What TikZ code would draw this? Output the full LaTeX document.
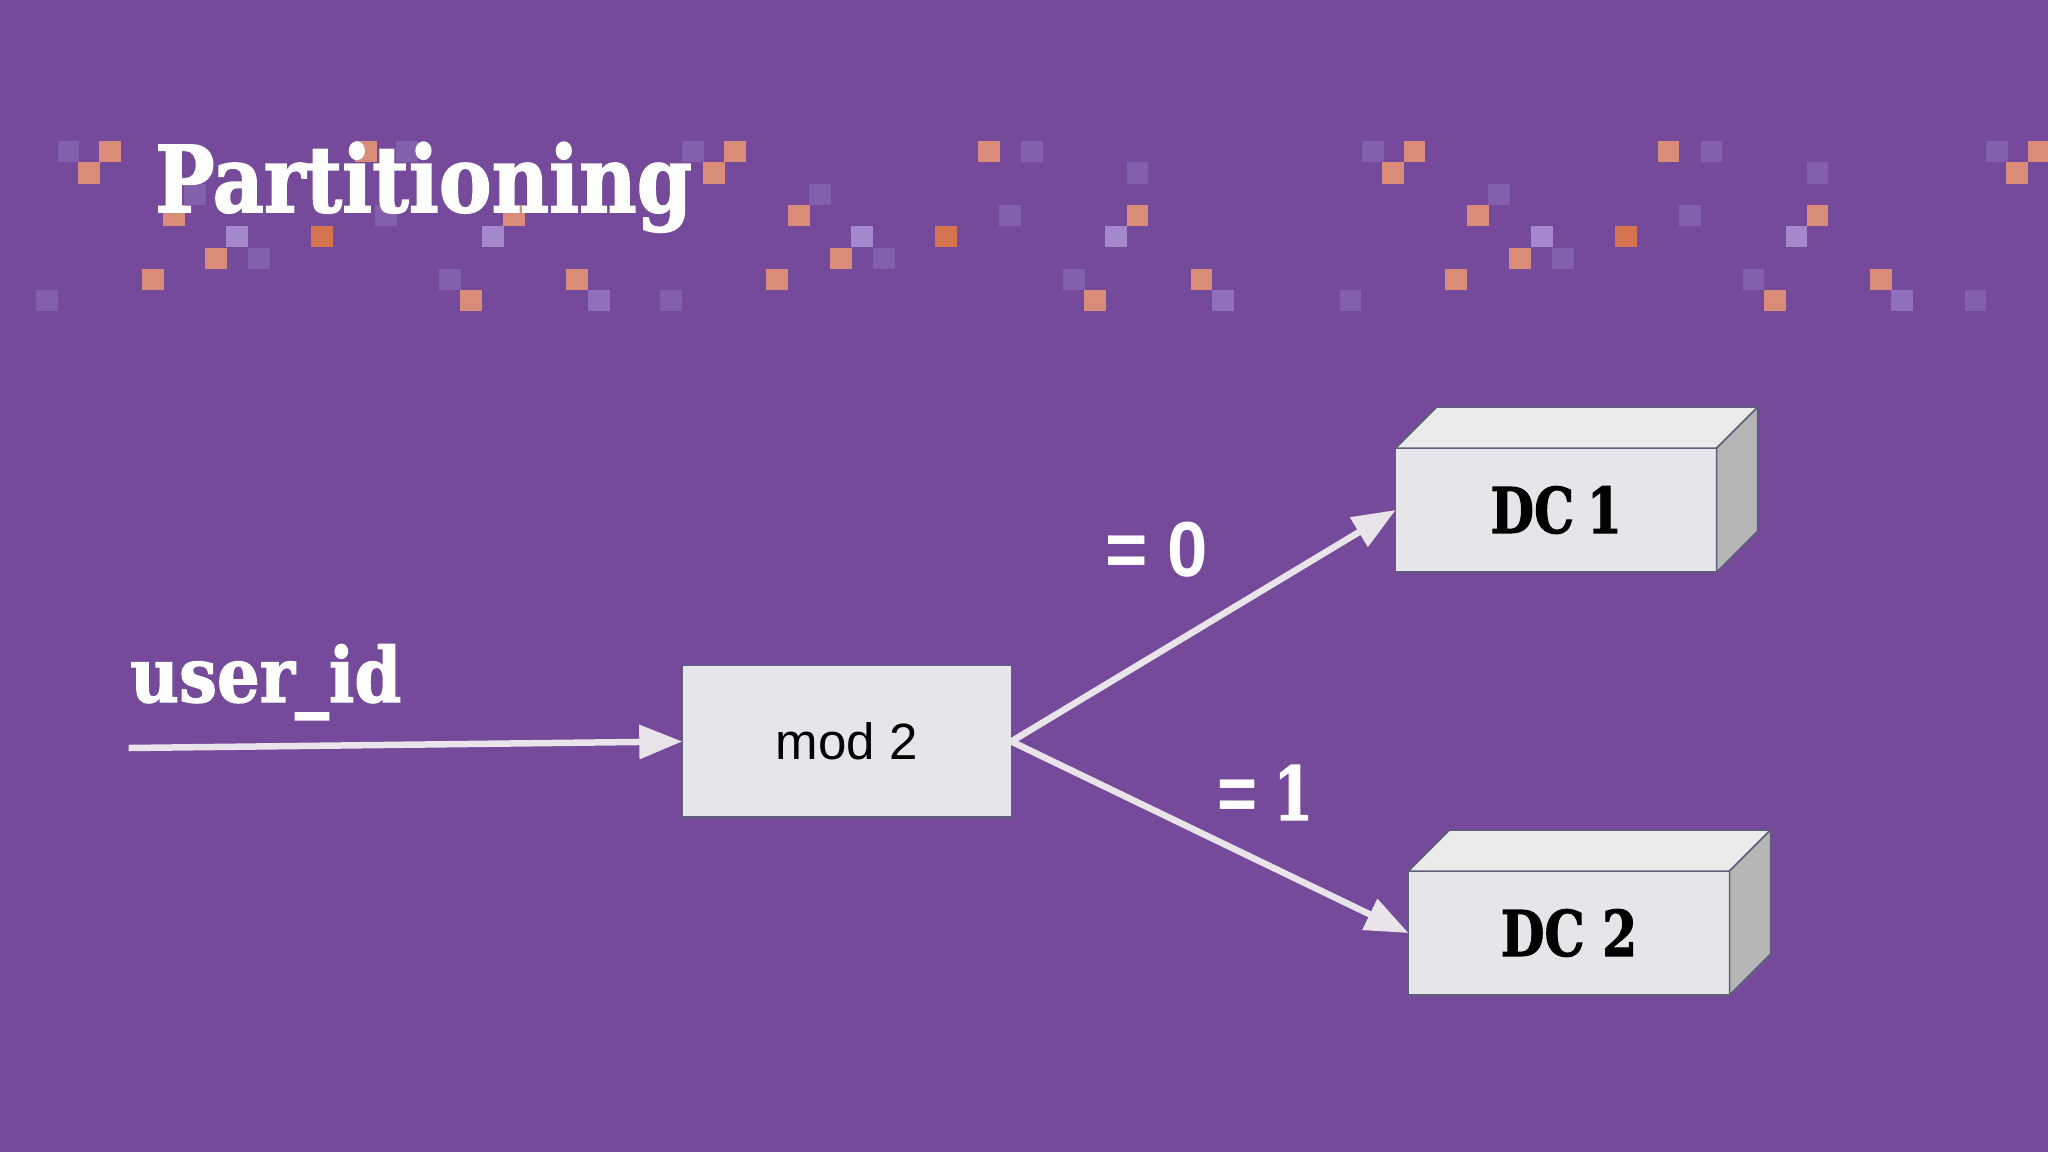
\documentclass[tikz,border=0pt]{standalone}
\usepackage{fontspec}
\usetikzlibrary{arrows.meta}
\setmainfont{DejaVu Serif}[BoldFeatures={FakeBold=1.8}]
\newfontfamily\armo{Liberation Sans}
\definecolor{bgp}{HTML}{754A9B}
\definecolor{sqo}{HTML}{D98D78}
\definecolor{sqs}{HTML}{D6744F}
\definecolor{sql}{HTML}{A388CC}
\definecolor{sqm}{HTML}{9070BA}
\definecolor{sqf}{HTML}{8360AC}
\definecolor{boxf}{HTML}{E6E6EA}
\definecolor{boxl}{HTML}{5D5F7A}
\definecolor{topf}{HTML}{EBEBEC}
\definecolor{sidef}{HTML}{B6B6B6}
\definecolor{arr}{HTML}{E9E4EA}
\tikzset{
  boxnode/.style={draw=boxl,line width=1.5pt,fill=boxf,inner sep=0pt,outer sep=0pt,text=black,anchor=north west},
  face/.style={draw=boxl,line width=1.5pt,line join=round},
  link/.style={draw=arr,line width=6.5pt,-{Triangle[length=43pt,width=33pt,fill=arr]}},
  titletext/.style={text=white,inner sep=0pt,anchor=base west,font=\bfseries},
}
\newcommand{\rowy}[1]{\ifcase#1 141\or 162.3\or 183.6\or 205\or 226\or 247.5\or 269\or 290\fi}
\newcommand{\sqr}[3]{\fill[#1] (#2,\rowy{#3}) rectangle ++(21.5,21.4);}
\newcommand{\cube}[1]{%
  \draw[face,fill=topf] (#1.north west) -- ++(41,-41) -- ++(321,0) -- (#1.north east) -- cycle;
  \draw[face,fill=sidef] (#1.north east) -- ++(41,-41) -- ++(0,124) -- (#1.south east) -- cycle;
}
\begin{document}
\begin{tikzpicture}[x=1pt,y=-1pt]
\useasboundingbox (0,0) rectangle (2048,1152);
\fill[bgp] (0,0) rectangle (2048,1152);
% pixel pattern
\foreach \x/\r in {57.5/0,396/0,682/0,1021/0,1362/0,1700.7/0,1986/0,1126.5/1,1806.5/1,809/2,184/2,1488/2,999/3,375/3,1679/3,248/5,873/5,1552/5,439/6,1063/6,1742.5/6,36/7,660/7,1339.5/7,1964.5/7}{\sqr{sqf}{\x}{\r}}
\foreach \x/\r in {588/7,1212/7,1891/7}{\sqr{sqm}{\x}{\r}}
\foreach \x/\r in {226/4,482/4,851/4,1105/4,1531/4,1785.6/4}{\sqr{sql}{\x}{\r}}
\foreach \x/\r in {311/4,935/4,1615/4}{\sqr{sqs}{\x}{\r}}
\foreach \x/\r in {99/0,355/0,724/0,978/0,1403.5/0,1657.5/0,2028/0,78/1,703/1,1382/1,2006/1,788/3,163/3,503/3,1126.5/3,1467/3,1806.5/3,205/5,830/5,1509/5,142/6,566/6,766/6,1190.5/6,1445/6,1870/6,460/7,1084/7,1764/7}{\sqr{sqo}{\x}{\r}}
% texts
\node[titletext,font=\bfseries\fontsize{92}{92}\selectfont] (title) at (155,212) {\scalebox{0.86}[1]{Partitioning}};
\node[titletext,font=\bfseries\fontsize{76}{76}\selectfont] (uid) at (130,702) {\scalebox{0.885}[1]{user\_id}};
\node[titletext,font=\armo\bfseries\fontsize{78}{78}\selectfont] (eq0) at (1105,576) {\scalebox{0.93}[1]{= 0}};
\node[titletext,font=\armo\bfseries\fontsize{78}{78}\selectfont] (eq1) at (1217,820) {\scalebox{0.88}[1]{=}\hspace{16pt}{\rmfamily\bfseries\fontsize{74}{74}\selectfont\scalebox{0.78}[1]{1}}};
% boxes
\node[boxnode,minimum width=329pt,minimum height=151.5pt,font=\armo\fontsize{51}{51}\selectfont] (mod) at (682.3,665.7) {mod 2};
\node[boxnode,minimum width=321pt,minimum height=124pt,font=\bfseries\fontsize{63}{63}\selectfont] (dc1) at (1395.7,448) {\scalebox{0.8}[1]{DC\hspace{-6pt} 1}};
\node[boxnode,minimum width=321pt,minimum height=124pt,font=\bfseries\fontsize{63}{63}\selectfont] (dc2) at (1408.5,871) {\scalebox{0.8}[1]{DC 2}};
\cube{dc1}
\cube{dc2}
% connectors
\coordinate (src) at (128.6,748);
\draw[link] (src) -- (mod.west);
\draw[link] (mod.east) -- (dc1.west);
\draw[link] (mod.east) -- (dc2.west);
\end{tikzpicture}
\end{document}
